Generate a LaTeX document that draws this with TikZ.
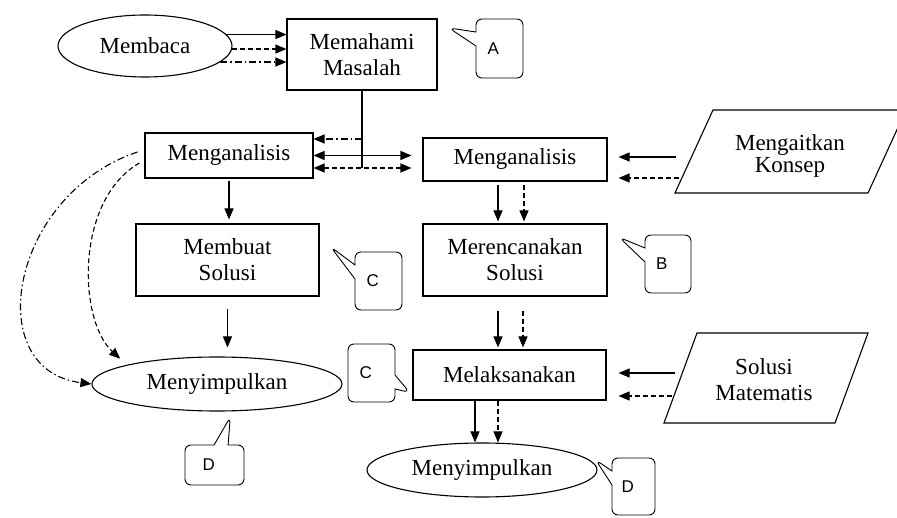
\documentclass[tikz,border=0pt]{standalone}
\usepackage{fontspec}
\setmainfont{Liberation Serif}
\newfontfamily\notefont{Liberation Sans}
\usetikzlibrary{arrows.meta,shapes.geometric,shapes.callouts}

\tikzset{
  box/.style={draw, rectangle, align=center, inner sep=0pt},
  oval/.style={draw, ellipse, inner sep=0pt},
  arr/.style={-{Triangle[length=11pt,width=9pt]}},
  darr/.style={{Triangle[length=11pt,width=9pt]}-{Triangle[length=11pt,width=9pt]}},
  dashline/.style={dash pattern=on 5pt off 3pt},
  dotdash/.style={dash pattern=on 7pt off 3pt on 1.5pt off 3pt},
  note/.style={rectangle callout, draw, rounded corners=6pt, line width=0.9pt,
    callout pointer width=14pt, font=\notefont\fontsize{17}{20}\selectfont,
    text width=24pt, align=left, inner sep=0pt}
}

\begin{document}
\begin{tikzpicture}[x=1pt, y=-1pt, line width=1.1pt, font=\fontsize{23}{26}\selectfont]
\useasboundingbox (0,0) rectangle (897,518);

% kotak dan elips
\node[oval, minimum width=174pt, minimum height=62pt] (membaca) at (145,46) {Membaca};
\node[box, minimum width=150pt, minimum height=71pt] (paham) at (362,54.5) {Memahami\\Masalah};
\node[box, minimum width=168pt, minimum height=45pt] (analisisA) at (229,155.5) {Menganalisis};
\node[box, minimum width=184pt, minimum height=43pt] (analisisB) at (515,159.5) {Menganalisis};
\node[box, minimum width=183pt, minimum height=72pt] (buat) at (227.5,260) {Membuat\\Solusi};
\node[box, minimum width=184pt, minimum height=72pt] (rencana) at (515,260) {Merencanakan\\Solusi};
\node[box, minimum width=193pt, minimum height=50pt] (laksana) at (509.5,375) {Melaksanakan};
\node[oval, minimum width=250pt, minimum height=54pt] (simpulA) at (217,384) {Menyimpulkan};
\node[oval, minimum width=230pt, minimum height=54pt] (simpulB) at (482,470) {Menyimpulkan};

% jajaran genjang
\draw (713,110) -- (906,110) -- (868,193) -- (675,193) -- cycle;
\node[align=center] (konsep) at (790,156) {Mengaitkan\\[-4pt]Konsep};
\draw (697,333) -- (868,333) -- (835,423) -- (664,423) -- cycle;
\node[align=center] (matematis) at (764,380) {Solusi\\Matematis};

% Membaca ke Memahami Masalah
\draw[arr] (membaca.8) -- (membaca.8 -| paham.west);
\draw[arr,dashline] (membaca.-2) -- (membaca.-2 -| paham.west);
\draw[arr,dotdash] (membaca.-12) -- (membaca.-12 -| paham.west);

% Memahami Masalah ke Menganalisis
\coordinate (a1) at ([yshift=16.5pt]analisisA.east);
\coordinate (a3) at ([yshift=-12.5pt]analisisA.east);
\draw (paham.south) -- (a3 -| paham.south);
\draw[arr,dotdash] (a1 -| paham.south) -- (a1);
\draw[darr,shorten >=11pt] (analisisA.east) -- (analisisA.east -| analisisB.west);
\draw[darr,dashline,shorten >=11pt] (a3) -- (a3 -| analisisB.west);

% Mengaitkan Konsep dan Solusi Matematis
\coordinate (k1) at (676,157);
\coordinate (k2) at (679,178);
\draw[arr,shorten >=11pt] (k1) -- (k1 -| analisisB.east);
\draw[arr,dashline,shorten >=11pt] (k2) -- (k2 -| analisisB.east);
\coordinate (m1) at (675,373);
\coordinate (m2) at (672,396);
\draw[arr,shorten >=12pt] (m1) -- (m1 -| laksana.east);
\draw[arr,dashline,shorten >=12pt] (m2) -- (m2 -| laksana.east);

% jalur kanan
\coordinate (b1) at ([xshift=-17pt]analisisB.south);
\coordinate (b2) at ([xshift=9pt]analisisB.south);
\draw[arr,shorten <=3pt,shorten >=2pt] (b1) -- (b1 |- rencana.north);
\draw[arr,dashline,shorten <=3pt,shorten >=2pt] (b2) -- (b2 |- rencana.north);
\coordinate (r1) at ([xshift=-17pt]rencana.south);
\coordinate (r2) at ([xshift=8pt]rencana.south);
\draw[arr,shorten <=14pt,shorten >=2pt] (r1) -- (r1 |- laksana.north);
\draw[arr,dashline,shorten <=14pt,shorten >=2pt] (r2) -- (r2 |- laksana.north);
\coordinate (l1) at ([xshift=-34.5pt]laksana.south);
\coordinate (l2) at ([xshift=-11.5pt]laksana.south);
\draw[arr] (l1) -- (l1 |- simpulB.north);
\draw[arr,dashline] (l2) -- (l2 |- simpulB.north);

% jalur kiri
\draw[arr,shorten <=2pt,shorten >=4pt] (analisisA.south) -- (analisisA.south |- buat.north);
\draw[arr,shorten <=12pt,shorten >=9pt] (buat.south) -- (buat.south |- simpulA.north);
\draw[arr,dotdash] ([shift={(-7pt,3.5pt)}]analisisA.west) .. controls (10,195) and (-20,370) .. (simpulA.west);
\draw[arr,dashline,shorten >=9pt] ([shift={(-5pt,-7.5pt)}]analisisA.west) .. controls (75,200) and (78,320) .. (simpulA.168);

% keterangan
\node[note, minimum width=47pt, minimum height=59pt, callout absolute pointer={(449,28)}] (noteA) at (499.5,48.5) {A};
\node[note, minimum width=46pt, minimum height=58pt, callout absolute pointer={(619.4,237.5)}] (noteB) at (668,264) {B};
\node[note, minimum width=47pt, minimum height=58pt, callout absolute pointer={(330.8,247)}] (noteC1) at (378.5,281) {C};
\node[note, minimum width=47pt, minimum height=58pt, callout absolute pointer={(409.6,392.4)}] (noteC2) at (371.5,373) {C};
\node[note, minimum width=59pt, minimum height=40pt, callout absolute pointer={(230.3,417)}] (noteD1) at (214.5,465) {D};
\node[note, minimum width=43pt, minimum height=57pt, callout absolute pointer={(595.8,460)}] (noteD2) at (633.5,486.5) {D};
\end{tikzpicture}
\end{document}
